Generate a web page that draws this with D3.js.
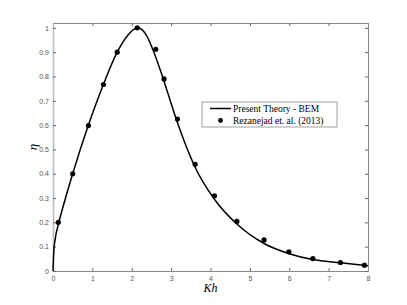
<!DOCTYPE html>
<html>
<head>
<meta charset="utf-8">
<script src="https://cdn.jsdelivr.net/npm/d3@7"></script>
<style>
  body { margin: 0; background: #fff; }
  .tick text { fill: #555; font-family: "Liberation Sans", Arial, sans-serif; font-size: 7px; }
</style>
</head>
<body>
<div id="wrapper"></div>
<script>
// data
const theoryKh  = [0, 0.02, 0.05, 0.15, 0.3, 0.5, 0.9, 1.28, 1.63, 1.9, 2.15, 2.35, 2.55, 2.8, 3.15, 3.6, 4.1, 4.67, 5.36, 6.0, 6.6, 7.3, 8.0]
const theoryEta = [0, 0.08, 0.125, 0.2, 0.29, 0.4, 0.6, 0.767, 0.9, 0.97, 1.0, 0.975, 0.905, 0.79, 0.615, 0.43, 0.295, 0.193, 0.113, 0.071, 0.047, 0.034, 0.022]

const expKh  = [0.135, 0.5, 0.9, 1.28, 1.63, 2.14, 2.61, 2.82, 3.16, 3.61, 4.1, 4.67, 5.36, 5.99, 6.6, 7.3, 7.91]
const expEta = [0.2, 0.4, 0.598, 0.767, 0.9, 1.0, 0.912, 0.79, 0.625, 0.439, 0.309, 0.204, 0.128, 0.079, 0.051, 0.035, 0.024]

const xTicks = [0, 1, 2, 3, 4, 5, 6, 7, 8]
const yTicks = [0, 0.1, 0.2, 0.3, 0.4, 0.5, 0.6, 0.7, 0.8, 0.9, 1]

const legendLabels = ["Present Theory - BEM", "Rezanejad et. al. (2013)"]

// dimensions
let dimensions = {
  width: 407,
  height: 305,
  margin: { top: 23, right: 39, bottom: 34, left: 53 },
}
dimensions.boundedWidth = dimensions.width - dimensions.margin.left - dimensions.margin.right
dimensions.boundedHeight = dimensions.height - dimensions.margin.top - dimensions.margin.bottom

const wrapper = d3.select("#wrapper")
  .append("svg")
    .attr("width", dimensions.width)
    .attr("height", dimensions.height)

const bounds = wrapper.append("g")
    .attr("transform", `translate(${dimensions.margin.left},${dimensions.margin.top})`)

// scales
const xScale = d3.scaleLinear()
  .domain([0, 8])
  .range([0, dimensions.boundedWidth])

const yScale = d3.scaleLinear()
  .domain([0, 1.02])
  .range([dimensions.boundedHeight, 0])

// axes (ticks inside, MATLAB style)
const fmt = d3.format("~g")
const axisColor = "#8a8a8a"

const xAxis = bounds.append("g")
    .attr("transform", `translate(0,${dimensions.boundedHeight})`)
    .call(d3.axisBottom(xScale).tickValues(xTicks).tickFormat(fmt).tickSizeInner(-3).tickSizeOuter(0).tickPadding(5))
const xAxisTop = bounds.append("g")
    .call(d3.axisTop(xScale).tickValues(xTicks).tickFormat("").tickSizeInner(-3).tickSizeOuter(0))
const yAxis = bounds.append("g")
    .call(d3.axisLeft(yScale).tickValues(yTicks).tickFormat(fmt).tickSizeInner(-3).tickSizeOuter(0).tickPadding(4))
const yAxisRight = bounds.append("g")
    .attr("transform", `translate(${dimensions.boundedWidth},0)`)
    .call(d3.axisRight(yScale).tickValues(yTicks).tickFormat("").tickSizeInner(-3).tickSizeOuter(0))

bounds.selectAll(".domain").attr("stroke", axisColor)
bounds.selectAll(".tick line").attr("stroke", "#666")
yAxis.select(".domain").attr("stroke", "#bdbdbd").attr("stroke-width", 1.6)

// theory curve
const lineGenerator = d3.line()
  .x(d => xScale(d[0]))
  .y(d => yScale(d[1]))
  .curve(d3.curveMonotoneX)

bounds.append("path")
    .datum(theoryKh.map((k, i) => [k, theoryEta[i]]))
    .attr("d", lineGenerator)
    .attr("fill", "none")
    .attr("stroke", "#000")
    .attr("stroke-width", 1.5)

// experimental points
bounds.append("g")
  .selectAll("circle")
  .data(expKh.map((k, i) => [k, expEta[i]]))
  .join("circle")
    .attr("cx", d => xScale(d[0]))
    .attr("cy", d => yScale(d[1]))
    .attr("r", 2.6)
    .attr("fill", "#000")

// axis labels
wrapper.append("text")
    .attr("x", dimensions.margin.left + dimensions.boundedWidth / 2)
    .attr("y", 292)
    .attr("text-anchor", "middle")
    .style("font-family", "'Liberation Serif', 'DejaVu Serif', serif")
    .style("font-style", "italic")
    .style("font-size", "12px")
    .text("Kh")

wrapper.append("text")
    .attr("transform", `translate(37,${dimensions.margin.top + dimensions.boundedHeight / 2}) rotate(-90)`)
    .attr("text-anchor", "middle")
    .style("font-family", "'Liberation Serif', 'DejaVu Serif', serif")
    .style("font-style", "italic")
    .style("font-size", "13px")
    .text("η")

// legend
const legend = wrapper.append("g")
    .attr("transform", "translate(202,102)")

legend.append("rect")
    .attr("width", 135)
    .attr("height", 25)
    .attr("fill", "#fff")
    .attr("stroke", "#888")
    .attr("stroke-width", 0.8)

legend.append("line")
    .attr("x1", 8).attr("x2", 29)
    .attr("y1", 6.5).attr("y2", 6.5)
    .attr("stroke", "#000")
    .attr("stroke-width", 1.5)

legend.append("circle")
    .attr("cx", 18.5)
    .attr("cy", 18.5)
    .attr("r", 2.4)
    .attr("fill", "#000")

legend.selectAll(".legend-label")
  .data(legendLabels)
  .join("text")
    .attr("class", "legend-label")
    .attr("x", 31)
    .attr("y", (d, i) => 9.5 + i * 12)
    .style("font-family", "'Liberation Serif', 'DejaVu Serif', serif")
    .style("font-size", "9.5px")
    .text(d => d)
</script>
</body>
</html>
